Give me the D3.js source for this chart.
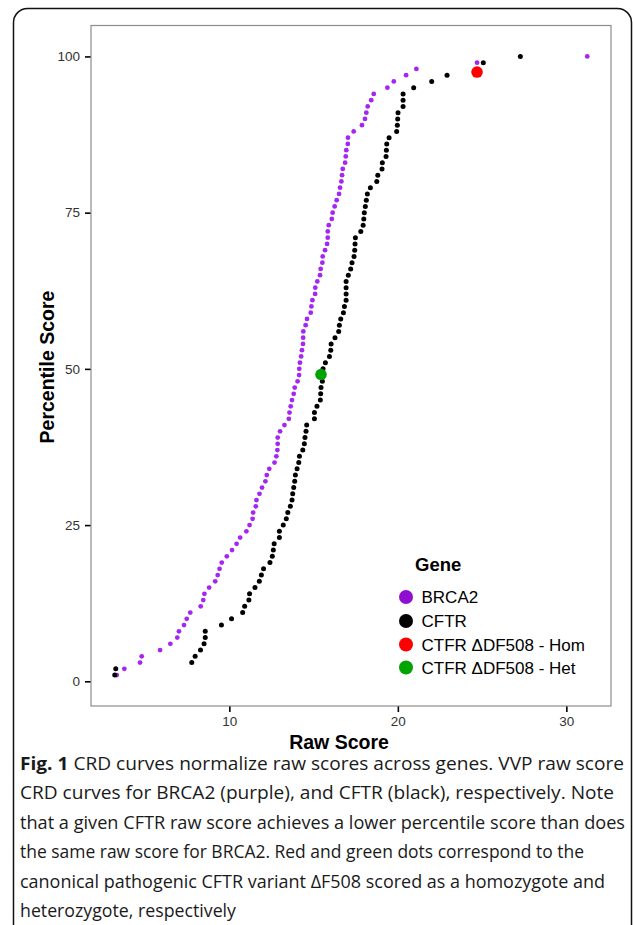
<!DOCTYPE html>
<html>
<head>
<meta charset="utf-8">
<script src="https://cdn.jsdelivr.net/npm/d3@7"></script>
<style>
  body { margin: 0; background: #fff; }
  svg { display: block; }
</style>
</head>
<body>
<div id="chartContainer"></div>
<script>
// BRCA2 curve (purple)
let brca2_raw = [3.32, 3.77, 4.70, 4.80, 5.89, 6.50, 6.91, 7.01, 7.31, 7.47,
    7.68, 8.30, 8.45, 8.52, 8.80, 9.16, 9.31, 9.42, 9.55, 9.85,
    10.16, 10.43, 10.64, 11.01, 11.20, 11.38, 11.41, 11.57, 11.61, 11.79,
    11.94, 12.14, 12.22, 12.37, 12.68, 12.79, 12.85, 12.87, 12.87, 13.01,
    13.27, 13.53, 13.57, 13.64, 13.72, 13.82, 13.88, 14.05, 14.14, 14.15,
    14.19, 14.26, 14.31, 14.37, 14.38, 14.39, 14.53, 14.61, 14.83, 14.87,
    14.93, 15.09, 15.10, 15.22, 15.38, 15.42, 15.52, 15.54, 15.68, 15.80,
    15.84, 15.84, 15.90, 16.08, 16.13, 16.25, 16.37, 16.51, 16.57, 16.65,
    16.69, 16.73, 16.87, 16.91, 16.94, 17.03, 17.04, 17.38, 17.87, 18.05,
    18.13, 18.21, 18.42, 18.57, 19.38, 19.76, 20.49, 21.10, 24.70, 31.24];
let brca2_pct = [1, 2, 3, 4, 5, 6, 7, 8, 9, 10,
    11, 12, 13, 14, 15, 16, 17, 18, 19, 20,
    21, 22, 23, 24, 25, 26, 27, 28, 29, 30,
    31, 32, 33, 34, 35, 36, 37, 38, 39, 40,
    41, 42, 43, 44, 45, 46, 47, 48, 49, 50,
    51, 52, 53, 54, 55, 56, 57, 58, 59, 60,
    61, 62, 63, 64, 65, 66, 67, 68, 69, 70,
    71, 72, 73, 74, 75, 76, 77, 78, 79, 80,
    81, 82, 83, 84, 85, 86, 87, 88, 89, 90,
    91, 92, 93, 94, 95, 96, 97, 98, 99, 100];

// CFTR curve (black), no point at 98
let cftr_raw = [3.20, 3.26, 7.77, 7.97, 8.29, 8.50, 8.57, 8.57, 9.53, 10.13,
    10.79, 10.91, 11.16, 11.20, 11.52, 11.78, 11.90, 12.03, 12.41, 12.55,
    12.61, 12.66, 12.97, 12.97, 13.20, 13.38, 13.47, 13.62, 13.72, 13.76,
    13.82, 13.88, 13.92, 14.02, 14.12, 14.16, 14.36, 14.45, 14.49, 14.55,
    14.59, 15.05, 15.05, 15.20, 15.40, 15.42, 15.44, 15.52, 15.50, 15.56,
    15.70, 15.94, 16.02, 16.04, 16.27, 16.49, 16.53, 16.61, 16.77, 16.83,
    16.93, 16.93, 16.93, 16.93, 17.06, 17.20, 17.28, 17.40, 17.44, 17.46,
    17.48, 17.80, 17.94, 17.98, 18.01, 18.07, 18.13, 18.19, 18.37, 18.75,
    18.81, 19.06, 19.08, 19.30, 19.32, 19.34, 19.48, 19.93, 19.97, 19.99,
    20.01, 20.31, 20.31, 20.31, 20.94, 22.01, 22.92, 25.07, 27.27];
let cftr_pct = [1, 2, 3, 4, 5, 6, 7, 8, 9, 10,
    11, 12, 13, 14, 15, 16, 17, 18, 19, 20,
    21, 22, 23, 24, 25, 26, 27, 28, 29, 30,
    31, 32, 33, 34, 35, 36, 37, 38, 39, 40,
    41, 42, 43, 44, 45, 46, 47, 48, 49, 50,
    51, 52, 53, 54, 55, 56, 57, 58, 59, 60,
    61, 62, 63, 64, 65, 66, 67, 68, 69, 70,
    71, 72, 73, 74, 75, 76, 77, 78, 79, 80,
    81, 82, 83, 84, 85, 86, 87, 88, 89, 90,
    91, 92, 93, 94, 95, 96, 97, 99, 100];

// deltaF508 variants
let variant_names = ["CTFR \u0394DF508 - Hom", "CTFR \u0394DF508 - Het"];
let variant_raw = [24.70, 15.44];
let variant_pct = [97.5, 49.1];
let variant_colors = ["#ff0000", "#00a400"];

let legend_labels = ["BRCA2", "CFTR", "CTFR \u0394DF508 - Hom", "CTFR \u0394DF508 - Het"];
let legend_colors = ["#8f0fd0", "#000000", "#ff0000", "#00a400"];

let x_ticks = [10, 20, 30];
let y_ticks = [0, 25, 50, 75, 100];

let caption_lines = [
    "CRD curves normalize raw scores across genes. VVP raw score",
    "CRD curves for BRCA2 (purple), and CFTR (black), respectively. Note",
    "that a given CFTR raw score achieves a lower percentile score than does",
    "the same raw score for BRCA2. Red and green dots correspond to the",
    "canonical pathogenic CFTR variant \u0394F508 scored as a homozygote and",
    "heterozygote, respectively"
];
let caption_widths = [604, 594, 605, 564, 585, 216];

function drawChart() {
    let width = 633, height = 925;
    let panel = { left: 91, right: 611, top: 25.5, bottom: 706 };
    let font = "'Liberation Sans', Arial, sans-serif";

    let svg = d3.select("#chartContainer")
        .append("svg")
        .attr("width", width)
        .attr("height", height);

    // figure frame, bottom runs off the page
    svg.append("rect")
        .attr("x", 13.5).attr("y", 8.5)
        .attr("width", 618).attr("height", 960)
        .attr("rx", 14)
        .attr("fill", "none")
        .attr("stroke", "#111")
        .attr("stroke-width", 1.5);

    let x = d3.scaleLinear()
        .domain([1.79, 32.65])
        .range([panel.left, panel.right]);
    let y = d3.scaleLinear()
        .domain([-3.95, 104.95])
        .range([panel.bottom, panel.top]);

    // axes
    let xAxis = svg.append("g")
        .attr("transform", "translate(0," + panel.bottom + ")")
        .call(d3.axisBottom(x).tickValues(x_ticks).tickSize(6).tickPadding(4));
    let yAxis = svg.append("g")
        .attr("transform", "translate(" + panel.left + ",0)")
        .call(d3.axisLeft(y).tickValues(y_ticks).tickSize(6).tickPadding(5));
    [xAxis, yAxis].forEach(a => {
        a.select(".domain").remove();
        a.selectAll(".tick line").attr("stroke", "#000").attr("stroke-width", 1.6);
        a.selectAll(".tick text")
            .attr("fill", "#333")
            .style("font-family", font)
            .style("font-size", "13.5px");
    });

    // panel border
    svg.append("rect")
        .attr("x", panel.left).attr("y", panel.top)
        .attr("width", panel.right - panel.left)
        .attr("height", panel.bottom - panel.top)
        .attr("fill", "none")
        .attr("stroke", "#8c8c8c")
        .attr("stroke-width", 1.2);

    // points
    svg.append("g").selectAll("circle")
        .data(brca2_raw)
        .join("circle")
        .attr("cx", d => x(d))
        .attr("cy", (d, i) => y(brca2_pct[i]))
        .attr("r", 2.4)
        .attr("fill", "#a526f2");

    svg.append("g").selectAll("circle")
        .data(cftr_raw)
        .join("circle")
        .attr("cx", d => x(d))
        .attr("cy", (d, i) => y(cftr_pct[i]))
        .attr("r", 2.5)
        .attr("fill", "#000");

    svg.append("g").selectAll("circle")
        .data(variant_raw)
        .join("circle")
        .attr("cx", d => x(d))
        .attr("cy", (d, i) => y(variant_pct[i]))
        .attr("r", 5.8)
        .attr("fill", (d, i) => variant_colors[i]);

    // axis titles
    svg.append("text")
        .attr("x", 339).attr("y", 748.5)
        .attr("text-anchor", "middle")
        .style("font-family", font)
        .style("font-weight", "bold")
        .style("font-size", "19.5px")
        .text("Raw Score");

    svg.append("text")
        .attr("transform", "translate(54,367) rotate(-90)")
        .attr("text-anchor", "middle")
        .style("font-family", font)
        .style("font-weight", "bold")
        .style("font-size", "19.5px")
        .text("Percentile Score");

    // legend
    let legend = svg.append("g");
    legend.append("text")
        .attr("x", 415).attr("y", 571)
        .style("font-family", font)
        .style("font-weight", "bold")
        .style("font-size", "18.5px")
        .text("Gene");
    let key_y = [597, 621, 644.5, 667.5];
    legend_labels.forEach((label, i) => {
        legend.append("circle")
            .attr("cx", 406).attr("cy", key_y[i])
            .attr("r", 7)
            .attr("fill", legend_colors[i]);
        legend.append("text")
            .attr("x", 421.5).attr("y", key_y[i] + 6)
            .style("font-family", font)
            .style("font-size", "17px")
            .text(label);
    });

    // caption
    let capFont = "'Open Sans', 'Noto Sans', sans-serif";
    caption_lines.forEach((line, i) => {
        let t = svg.append("text")
            .attr("x", 20)
            .attr("y", 770 + i * 29.4)
            .attr("textLength", caption_widths[i])
            .attr("lengthAdjust", "spacingAndGlyphs")
            .style("font-family", capFont)
            .style("font-size", "18px")
            .attr("fill", "#1a1a1a");
        if (i == 0) {
            t.append("tspan").style("font-weight", "bold").text("Fig. 1");
            t.append("tspan").text(" " + line);
        } else {
            t.text(line);
        }
    });
}

drawChart();
</script>
</body>
</html>
